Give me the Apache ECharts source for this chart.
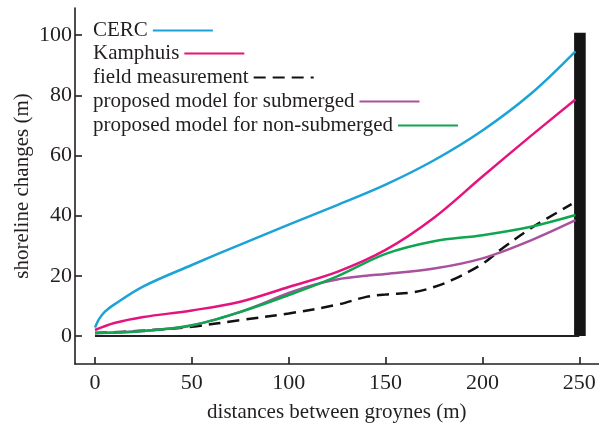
<!DOCTYPE html>
<html lang="en">
<head>
  <meta charset="UTF-8">
  <title>shoreline changes</title>
  <script src="https://cdn.jsdelivr.net/npm/echarts@6/dist/echarts.min.js"></script>
  <style>
    html, body { margin: 0; padding: 0; background: #fff; }
  </style>
</head>
<body>
  <div id="main" style="width: 599px;height:425px;"></div>
  <script>
    // values
    var xTicks = [0, 50, 100, 150, 200, 250]
    var yTicks = [0, 20, 40, 60, 80, 100]

    var cercX = [0, 2, 5, 10, 25, 50, 75, 100, 125, 150, 175, 200, 225, 248]
    var cercY = [2.8, 5.5, 8, 10.5, 16.5, 23.6, 30.4, 37, 43.5, 50.3, 58.4, 68.3, 80.5, 94.6]

    var kampX = [0, 10, 25, 50, 75, 100, 125, 150, 175, 200, 225, 248]
    var kampY = [2, 4.3, 6.3, 8.5, 11.4, 16.3, 21.3, 28.6, 39.3, 53, 66.5, 78.6]

    var fieldX = [0, 25, 50, 75, 100, 125, 140, 150, 165, 175, 185, 200, 210, 225, 246]
    var fieldY = [1, 1.8, 3.1, 5.3, 7.5, 10.4, 13, 13.8, 14.6, 16.3, 18.8, 24, 29, 35.8, 43.8]

    var subX = [0, 25, 50, 75, 100, 110, 125, 140, 150, 175, 200, 225, 248]
    var subY = [1, 1.7, 3.5, 8, 14.3, 16.5, 18.8, 20, 20.6, 22.4, 25.8, 31.8, 38.5]

    var nonSubX = [0, 25, 50, 75, 100, 125, 150, 175, 200, 225, 248]
    var nonSubY = [1, 1.7, 3.6, 8, 13.6, 19.8, 27.3, 31.5, 33.5, 36.3, 40.2]

    var names = ['CERC', 'Kamphuis', 'field measurement',
      'proposed model for submerged', 'proposed model for non-submerged']

    // groyne (black wall) and the zero line
    var groyneX = [247.3, 253.3]
    var groyneTop = 100.8
    var baseX = [0, 250]

    function pairs(xs, ys) {
      return xs.map(function (x, i) { return [x, ys[i]] })
    }

    var font = '"Liberation Serif", "Times New Roman", serif'
    var ink = '#231f20'

    function lineSeries(name, xs, ys, color, dash) {
      return {
        name: name,
        type: 'line',
        data: pairs(xs, ys),
        smooth: 0.35,
        symbol: 'none',
        lineStyle: { color: color, width: 2.5, type: dash || 'solid' },
        itemStyle: { color: color }
      }
    }

    // one legend per row so the text stays left aligned with the line after it
    var legendTops = [15, 38, 62, 86, 110]
    var legends = names.map(function (n, i) {
      return {
        data: [n],
        left: 88,
        top: legendTops[i],
        align: 'right',
        itemWidth: 60,
        itemHeight: 14,
        itemStyle: { opacity: 0 },
        textStyle: { fontFamily: font, fontSize: 21, color: ink }
      }
    })

    var myChart = echarts.init(document.getElementById('main'))
    var option = {
      animation: false,
      backgroundColor: '#fff',
      grid: { left: 75, top: 8, width: 523.7, height: 356, outerBoundsMode: 'none', containLabel: false },
      legend: legends,
      xAxis: {
        type: 'value',
        min: -10.32,
        max: 260,
        name: 'distances between groynes (m)',
        nameLocation: 'middle',
        nameGap: 38,
        nameTextStyle: { fontFamily: font, fontSize: 21, color: ink },
        axisLine: { onZero: false, lineStyle: { color: ink, width: 1.6 } },
        axisTick: { inside: true, length: 7, customValues: xTicks, lineStyle: { color: ink, width: 1.6 } },
        axisLabel: { customValues: xTicks, margin: 8, fontFamily: font, fontSize: 22, color: ink },
        splitLine: { show: false }
      },
      yAxis: {
        type: 'value',
        min: -9.3,
        max: 109,
        name: 'shoreline changes (m)',
        nameLocation: 'middle',
        nameGap: 42,
        nameMoveOverlap: false,
        nameTextStyle: { fontFamily: font, fontSize: 21, color: ink },
        axisLine: { onZero: false, lineStyle: { color: ink, width: 1.6 } },
        axisTick: { inside: true, length: 7, customValues: yTicks, lineStyle: { color: ink, width: 1.6 } },
        axisLabel: { customValues: yTicks, margin: 3, fontFamily: font, fontSize: 22, color: ink },
        splitLine: { show: false }
      },
      series: [
        lineSeries(names[0], cercX, cercY, '#1ba3d8'),
        lineSeries(names[1], kampX, kampY, '#e5147d'),
        lineSeries(names[2], fieldX, fieldY, '#111111', [12, 7]),
        lineSeries(names[3], subX, subY, '#a9519c'),
        lineSeries(names[4], nonSubX, nonSubY, '#10a650'),
        {
          name: 'groyne',
          type: 'line',
          data: [],
          z: 5,
          markArea: {
            silent: true,
            itemStyle: { color: '#151515' },
            data: [[{ coord: [groyneX[0], 0] }, { coord: [groyneX[1], groyneTop] }]]
          },
          markLine: {
            silent: true,
            symbol: 'none',
            label: { show: false },
            lineStyle: { color: ink, width: 2, type: 'solid' },
            data: [[{ coord: [baseX[0], 0] }, { coord: [baseX[1], 0] }]]
          }
        }
      ]
    }
    myChart.setOption(option)
  </script>
</body>
</html>
